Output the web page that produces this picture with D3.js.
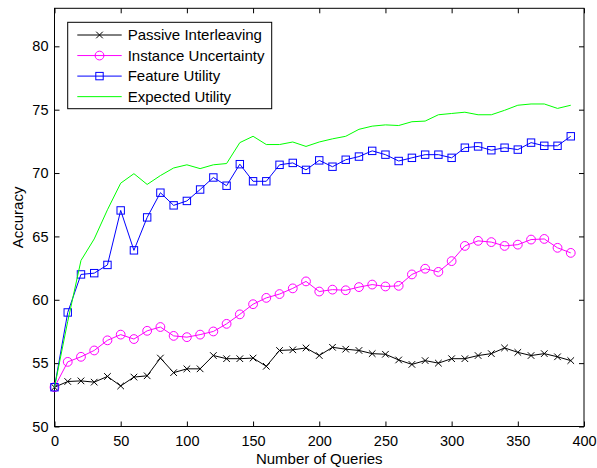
<!DOCTYPE html>
<html>
<head>
<meta charset="utf-8">
<script src="https://cdn.jsdelivr.net/npm/d3@7"></script>
<style>
html,body{margin:0;padding:0;background:#fff;}
text{font-family:"Liberation Sans",Arial,Helvetica,sans-serif;}
</style>
</head>
<body>
<svg id="chart" width="597" height="468"></svg>
<script>
const queries = d3.range(0, 400, 10);
const passive = [53.1,53.55,53.6,53.5,53.95,53.2,53.9,54.0,55.4,54.25,54.55,54.55,55.6,55.35,55.35,55.4,54.75,56.0,56.05,56.2,55.6,56.25,56.1,56.0,55.75,55.7,55.25,54.9,55.2,55.0,55.35,55.35,55.6,55.75,56.2,55.85,55.6,55.75,55.5,55.2];
const instance = [53.1,55.1,55.5,56.0,56.8,57.25,56.9,57.55,57.85,57.15,57.05,57.25,57.5,58.1,58.85,59.65,60.15,60.45,60.9,61.45,60.65,60.8,60.75,61.0,61.2,61.05,61.1,62.0,62.45,62.2,63.05,64.25,64.65,64.55,64.25,64.35,64.75,64.8,64.1,63.7];
const feature = [53.1,59.0,62.0,62.1,62.75,67.05,63.9,66.5,68.45,67.45,67.8,68.7,69.65,69.0,70.7,69.35,69.35,70.65,70.8,70.25,71.0,70.5,71.05,71.3,71.75,71.45,70.95,71.2,71.45,71.45,71.2,72.0,72.1,71.8,72.0,71.85,72.4,72.15,72.15,72.9];
const expected = [53.1,58.3,63.1,64.8,67.1,69.2,69.95,69.1,69.8,70.4,70.65,70.35,70.65,70.75,72.4,72.9,72.25,72.25,72.45,72.1,72.45,72.7,72.9,73.45,73.7,73.8,73.75,74.05,74.1,74.6,74.7,74.8,74.6,74.6,74.95,75.35,75.45,75.45,75.1,75.35];
const xTicks = [0,50,100,150,200,250,300,350,400];
const yTicks = [50,55,60,65,70,75,80];
const seriesNames = ["Passive Interleaving","Instance Uncertainty","Feature Utility","Expected Utility"];
const seriesColors = ["#000000","#ff00ff","#0000ff","#00ff00"];
const seriesMarkers = ["x","circle","square","none"];

const svg = d3.select("#chart");
const L = 54.5, R = 584, T = 8.3, B = 426.5;
const x = d3.scaleLinear().domain([0,400]).range([L,R]);
const y = d3.scaleLinear().domain([50,83]).range([B,T]);

// frame
svg.append("rect").attr("x",L).attr("y",T).attr("width",R-L).attr("height",B-T)
  .attr("fill","#fff").attr("stroke","#000").attr("stroke-width",1);

const tl = 5;
// x axis bottom
const gx = svg.append("g").attr("transform",`translate(0,${B})`)
  .call(d3.axisBottom(x).tickValues(xTicks).tickSize(-tl).tickPadding(9).tickFormat(d3.format("d")));
gx.select(".domain").remove();
gx.selectAll("text").attr("font-size","14.5px").attr("fill","#000");
gx.selectAll("line").attr("stroke","#000");
const gxt = svg.append("g").attr("transform",`translate(0,${T})`)
  .call(d3.axisTop(x).tickValues(xTicks).tickSize(-tl).tickFormat(""));
gxt.select(".domain").remove();
gxt.selectAll("line").attr("stroke","#000");

const gy = svg.append("g").attr("transform",`translate(${L},0)`)
  .call(d3.axisLeft(y).tickValues(yTicks).tickSize(-tl).tickPadding(6).tickFormat(d3.format("d")));
gy.select(".domain").remove();
gy.selectAll("text").attr("font-size","14.5px").attr("fill","#000");
gy.selectAll("line").attr("stroke","#000");
const gyr = svg.append("g").attr("transform",`translate(${R},0)`)
  .call(d3.axisRight(y).tickValues(yTicks).tickSize(-tl).tickFormat(""));
gyr.select(".domain").remove();
gyr.selectAll("line").attr("stroke","#000");

// labels
svg.append("text").attr("x",(L+R)/2).attr("y",464).attr("text-anchor","middle")
  .attr("font-size","15px").text("Number of Queries");
svg.append("text").attr("transform",`translate(23,${(T+B)/2}) rotate(-90)`)
  .attr("text-anchor","middle").attr("font-size","15px").text("Accuracy");

const allSeries = [passive, instance, feature, expected];
const line = d3.line().x((d,i)=>x(queries[i])).y(d=>y(d));

function drawMarker(g, type, cx, cy, color){
  if(type==="x"){
    const s=3.3;
    g.append("path").attr("d",`M${cx-s},${cy-s}L${cx+s},${cy+s}M${cx-s},${cy+s}L${cx+s},${cy-s}`)
      .attr("stroke",color).attr("stroke-width",1).attr("fill","none");
  } else if(type==="circle"){
    g.append("circle").attr("cx",cx).attr("cy",cy).attr("r",4.4)
      .attr("stroke",color).attr("stroke-width",1).attr("fill","none");
  } else if(type==="square"){
    const s=3.7;
    g.append("rect").attr("x",cx-s).attr("y",cy-s).attr("width",2*s).attr("height",2*s)
      .attr("stroke",color).attr("stroke-width",1).attr("fill","none");
  }
}

const plot = svg.append("g");
allSeries.forEach((vals, k)=>{
  const g = plot.append("g");
  g.append("path").datum(vals).attr("d",line).attr("fill","none")
    .attr("stroke",seriesColors[k]).attr("stroke-width",1);
  if(seriesMarkers[k]!=="none"){
    vals.forEach((v,i)=>drawMarker(g, seriesMarkers[k], x(queries[i]), y(v), seriesColors[k]));
  }
});

// legend
const lg = svg.append("g");
lg.append("rect").attr("x",67.7).attr("y",22.3).attr("width",204).attr("height",86.4)
  .attr("fill","#fff").attr("stroke","#000").attr("stroke-width",1);
seriesNames.forEach((n,k)=>{
  const cy = 35 + k*20.55;
  lg.append("line").attr("x1",77.3).attr("x2",121.7).attr("y1",cy).attr("y2",cy)
    .attr("stroke",seriesColors[k]).attr("stroke-width",1);
  if(seriesMarkers[k]!=="none") drawMarker(lg, seriesMarkers[k], 99.5, cy, seriesColors[k]);
  lg.append("text").attr("x",127.7).attr("y",cy+5.3).attr("font-size","15px").text(n);
});
</script>
</body>
</html>
